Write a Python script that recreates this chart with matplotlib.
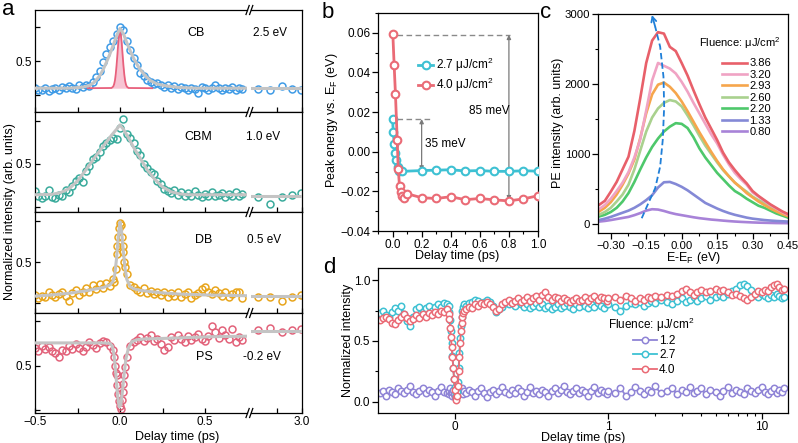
import numpy as np
import matplotlib
matplotlib.use('Agg')
import matplotlib.pyplot as plt
from matplotlib.lines import Line2D
from matplotlib.ticker import FixedLocator, FixedFormatter, NullFormatter

plt.rcParams['font.family'] = ['Liberation Sans', 'DejaVu Sans']
plt.rcParams['mathtext.fontset'] = 'custom'
plt.rcParams['mathtext.rm'] = 'Liberation Sans'
plt.rcParams['mathtext.it'] = 'Liberation Sans:italic'
plt.rcParams['mathtext.bf'] = 'Liberation Sans:bold'
plt.rcParams['font.size'] = 8.5
plt.rcParams['axes.linewidth'] = 0.9

# ================= panel a data =================
t_a = np.round(np.arange(-0.50, 0.7201, 0.02), 2)
t_r = [2.57, 2.69, 2.80, 2.90, 2.99]

cb_vals = [.11, .08, .07, .10, .06, .09, .10, .07, .12, .10,
           .13, .11, .09, .14, .12, .15, .13, .19, .26, .36,
           .48, .60, .70, .80, .90, 1.00, .95, .80, .66, .55,
           .44, .33, .28, .22, .19, .16, .18, .14, .12, .15,
           .11, .13, .09, .12, .10, .08, .11, .09, .03, .12,
           .10, .08, .11, .14, .10, .07, .11, .09, .12, .07,
           .10, .09]
cb_r = [0.09, 0.07, 0.13, 0.09, 0.07]
cb_fit_t = [-0.5, -0.3, -0.22, -0.18, -0.15, -0.12, -0.1, -0.08, -0.06, -0.04, -0.02, 0.0,
            0.02, 0.04, 0.06, 0.08, 0.1, 0.12, 0.15, 0.18, 0.22, 0.28, 0.35, 0.45, 0.6, 0.75]
cb_fit_v = [0.10, 0.10, 0.115, 0.14, 0.19, 0.28, 0.37, 0.48, 0.60, 0.73, 0.87, 0.98,
            0.90, 0.77, 0.65, 0.54, 0.45, 0.37, 0.28, 0.21, 0.16, 0.13, 0.11, 0.10, 0.10, 0.10]
cb_rfit = 0.10
pulse_t = [-0.19, -0.05, -0.04, -0.035, -0.03, -0.025, -0.02, -0.015, -0.01, -0.005, 0.0,
           0.005, 0.01, 0.015, 0.02, 0.025, 0.03, 0.035, 0.04, 0.05, 0.19]
pulse_v = [0.10, 0.103, 0.124, 0.155, 0.21, 0.307, 0.44, 0.603, 0.77, 0.885, 0.93,
           0.885, 0.77, 0.603, 0.44, 0.307, 0.21, 0.155, 0.124, 0.103, 0.10]
pulse_base = 0.10

cbm_vals = [.18, .12, .10, .12, .20, .11, .10, .14, .12, .19,
            .17, .24, .30, .34, .29, .42, .47, .55, .58, .64,
            .70, .74, .78, .80, .79, .92, 1.02, .84, .80, .74,
            .65, .60, .50, .45, .40, .38, .30, .26, .21, .18,
            .16, .20, .14, .17, .12, .16, .13, .18, .14, .11,
            .15, .13, .17, .12, .14, .16, .11, .15, .13, .17,
            .12, .15]
cbm_r = [0.11, 0.03, 0.11, 0.14, 0.16]
cbm_fit_t = [-0.5, -0.4, -0.35, -0.3, -0.25, -0.2, -0.15, -0.1, -0.05, -0.02, 0.0, 0.02,
             0.05, 0.08, 0.12, 0.16, 0.2, 0.25, 0.3, 0.35, 0.4, 0.5, 0.75]
cbm_fit_v = [0.14, 0.145, 0.165, 0.21, 0.30, 0.43, 0.57, 0.70, 0.83, 0.90, 0.95, 0.90,
             0.80, 0.69, 0.56, 0.43, 0.33, 0.23, 0.175, 0.15, 0.14, 0.14, 0.14]
cbm_rfit = 0.13

db_vals = [.10, .06, .09, .08, .13, .10, .07, .11, .13, .09,
           .03, .12, .16, .10, .14, .18, .13, .22, .17, .23,
           .19, .24, .21, .30, .60, .98, .62, .36, .22, .20,
           .16, .14, .18, .12, .15, .11, .14, .10, .13, .08,
           .12, .09, .14, .07, .11, .13, .06, .10, .12, .17,
           .20, .14, .11, .16, .12, .09, .13, .07, .11, .14,
           .13, .06]
db_spike_t = [-0.035, -0.025, -0.015, -0.01, -0.005, 0.005, 0.01, 0.015, 0.025, 0.03]
db_spike_v = [0.26, 0.42, 0.70, 0.80, 0.92, 0.95, 0.80, 0.70, 0.50, 0.44]
db_r = [0.08, 0.07, 0.03, 0.08, 0.10]
db_fit_t = [-0.5, -0.4, -0.3, -0.2, -0.1, -0.06, -0.04, -0.03, -0.02, -0.01, 0.0, 0.01,
            0.02, 0.03, 0.04, 0.06, 0.08, 0.12, 0.18, 0.25, 0.35, 0.5, 0.75]
db_fit_v = [0.085, 0.10, 0.12, 0.15, 0.19, 0.22, 0.27, 0.36, 0.55, 0.82, 0.99, 0.86,
            0.62, 0.42, 0.29, 0.20, 0.175, 0.155, 0.14, 0.125, 0.11, 0.10, 0.09]
db_rfit = 0.09

ps_vals = [.70, .66, .72, .69, .71, .67, .64, .60, .68, .66,
           .72, .69, .74, .70, .67, .71, .77, .73, .70, .75,
           .78, .76, .72, .68, .40, .05, .30, .60, .72, .76,
           .79, .82, .78, .81, .84, .78, .80, .74, .68, .71,
           .82, .79, .84, .80, .77, .83, .79, .82, .85, .80,
           .78, .83, .94, .88, .81, .90, .84, .80, .91, .76,
           .82, .79]
ps_spike_t = [-0.035, -0.03, -0.025, -0.015, -0.01, -0.005, 0.005, 0.01, 0.015, 0.025, 0.03]
ps_spike_v = [0.60, 0.50, 0.42, 0.28, 0.18, 0.10, 0.02, 0.12, 0.20, 0.40, 0.48]
ps_r = [0.90, 0.92, 0.88, 0.90, 0.91]
ps_fit_t = [-0.5, -0.1, -0.06, -0.045, -0.035, -0.025, -0.015, -0.005, 0.005, 0.015,
            0.025, 0.035, 0.05, 0.07, 0.1, 0.15, 0.25, 0.4, 0.55, 0.75]
ps_fit_v = [0.755, 0.755, 0.75, 0.72, 0.62, 0.42, 0.18, 0.04, 0.06, 0.22,
            0.42, 0.58, 0.70, 0.77, 0.79, 0.80, 0.805, 0.815, 0.825, 0.83]
ps_rfit = 0.885

row_names = ['CB', 'CBM', 'DB', 'PS']
row_energies = ['2.5 eV', '1.0 eV', '0.5 eV', '-0.2 eV']

# ================= panel b data =================
tb_27 = [0.000, 0.005, 0.012, 0.020, 0.027, 0.035, 0.045, 0.065,
         0.2, 0.3, 0.4, 0.5, 0.6, 0.7, 0.8, 0.9, 1.0]
eb_27 = [0.0165, 0.0099, 0.0039, -0.0005, -0.004, -0.0075, -0.0095, -0.0099,
         -0.0095, -0.0093, -0.0091, -0.0097, -0.0095, -0.0099, -0.0099, -0.0096, -0.0098]
tb_40 = [0.002, 0.011, 0.020, 0.032, 0.039, 0.048, 0.057, 0.066, 0.078, 0.1,
         0.2, 0.3, 0.4, 0.5, 0.6, 0.7, 0.8, 0.9, 1.0]
eb_40 = [0.0594, 0.0437, 0.029, 0.006, -0.0085, -0.0175, -0.0205, -0.0225, -0.0232, -0.0212,
         -0.0232, -0.0236, -0.0227, -0.0242, -0.0236, -0.0243, -0.0248, -0.0238, -0.0222]
shift_small = (0.2, 0.0165, -0.0095)   # time, start, end
shift_large = (0.8, 0.059, -0.0245)

# ================= panel c data =================
E_c = np.round(np.arange(-0.35, 0.4501, 0.025), 3)
fluences_c = ['3.86', '3.20', '2.93', '2.60', '2.20', '1.33', '0.80']
I_386 = [270, 330, 460, 600, 780, 960, 1330, 1800, 2300, 2620, 2740, 2720, 2530, 2470, 2300,
         2120, 1910, 1710, 1520, 1360, 1200, 1020, 880, 770, 670, 580, 470, 400, 340, 280,
         230, 180, 140]
I_320 = [210, 270, 360, 470, 590, 740, 950, 1210, 1620, 2050, 2300, 2260, 2220, 2150, 2030,
         1890, 1730, 1580, 1430, 1280, 1150, 990, 850, 730, 640, 560, 450, 390, 330, 270,
         220, 170, 130]
I_293 = [176, 230, 310, 420, 560, 720, 920, 1230, 1580, 1850, 1990, 2020, 1960, 1870, 1750,
         1610, 1460, 1310, 1170, 1030, 900, 780, 680, 590, 520, 440, 380, 320, 270, 220,
         180, 140, 110]
I_260 = [130, 170, 230, 320, 420, 560, 780, 1050, 1320, 1520, 1650, 1730, 1770, 1750, 1680,
         1550, 1410, 1260, 1120, 1000, 880, 770, 680, 590, 520, 460, 390, 340, 300, 250,
         200, 160, 120]
I_220 = [105, 130, 170, 230, 320, 440, 600, 780, 950, 1100, 1220, 1320, 1390, 1440, 1430,
         1370, 1240, 1080, 950, 840, 730, 640, 550, 470, 420, 360, 310, 260, 230, 190,
         150, 120, 90]
I_133 = [55, 75, 100, 130, 160, 190, 230, 280, 340, 410, 520, 595, 600, 570, 530,
         480, 420, 360, 300, 260, 220, 185, 155, 130, 110, 90, 75, 65, 55, 48,
         42, 38, 33]
I_080 = [33, 42, 55, 70, 85, 100, 125, 155, 190, 210, 205, 185, 160, 140, 125,
         110, 95, 82, 72, 62, 55, 47, 40, 34, 29, 25, 21, 18, 16, 14,
         12, 11, 10]
arrow_E = [-0.169, -0.141, -0.112, -0.091, -0.080, -0.074, -0.077, -0.091, -0.112, -0.126]
arrow_I = [81, 296, 510, 819, 1200, 1676, 2105, 2533, 2819, 2986]

# ================= panel d data =================
td_neg = [-0.49, -0.47, -0.45, -0.43, -0.41, -0.39, -0.37, -0.35, -0.33, -0.31, -0.29, -0.27,
          -0.25, -0.23, -0.21, -0.19, -0.17, -0.15, -0.13, -0.11, -0.09, -0.07, -0.05]
td_dip = [-0.04, -0.035, -0.03, -0.025, -0.02, -0.015, -0.01, -0.005, 0.0, 0.005, 0.01,
          0.015, 0.02, 0.025, 0.03, 0.035, 0.04, 0.045, 0.05, 0.055, 0.06]
td_mid = list(np.round(np.arange(0.07, 0.9901, 0.02), 2))
td_log = [1.0, 1.1, 1.2, 1.3, 1.4, 1.5, 1.6, 1.7, 1.8, 1.9, 2.0, 2.2, 2.4, 2.6, 2.8, 3.0,
          3.2, 3.4, 3.6, 3.8, 4.0, 4.3, 4.6, 5.0, 5.3, 5.6, 6.0, 6.4, 6.8, 7.2, 7.6, 8.0,
          8.5, 9.0, 9.5, 10, 10.5, 11, 11.5, 12, 12.5, 13, 13.5, 14]

d40_neg = [.67, .69, .70, .68, .65, .64, .67, .70, .72, .69, .66, .68, .71, .69, .72, .70,
           .73, .71, .74, .72, .75, .74, .76]
d40_dip = [.72, .68, .61, .53, .45, .37, .28, .19, .10, .04, .01, .05, .13, .25, .37, .48,
           .58, .65, .70, .73, .75]
d40_mid = [.76, .78, .77, .80, .79, .81, .80, .82, .80, .78,
           .75, .76, .80, .82, .84, .81, .83, .85, .82, .84,
           .86, .83, .85, .87, .84, .88, .90, .86, .84, .86,
           .85, .83, .85, .84, .82, .84, .85, .83, .84, .86,
           .83, .85, .87, .84, .86, .85, .83]
d40_log = [.85, .86, .84, .87, .85, .83, .85, .84, .86, .85,
           .87, .86, .88, .87, .89, .91, .93, .90, .88, .90,
           .92, .90, .91, .93, .91, .92, .90, .88, .89, .87,
           .85, .84, .86, .89, .91, .90, .92, .91, .94, .96,
           .97, .94, .92, .93]

d27_neg = [.73, .75, .71, .70, .74, .77, .75, .79, .72, .66, .62, .70, .76, .78, .74, .77,
           .79, .75, .78, .80, .78, .81, .80]
d27_dip = [.79, .74, .67, .58, .48, .38, .28, .19, .12, .07, .05, .08, .16, .28, .40, .52,
           .62, .70, .75, .78, .80]
d27_mid = [.79, .81, .82, .84, .83, .81, .82, .84, .82, .79,
           .74, .76, .78, .81, .80, .82, .79, .83, .80, .78,
           .80, .77, .79, .81, .78, .80, .77, .79, .76, .78,
           .80, .77, .79, .81, .78, .76, .80, .78, .82, .79,
           .77, .80, .78, .81, .79, .77, .80]
d27_log = [.80, .78, .75, .79, .81, .80, .82, .79, .81, .83,
           .81, .84, .82, .80, .83, .85, .82, .84, .86, .83,
           .85, .87, .84, .86, .88, .86, .89, .91, .93, .96,
           .97, .95, .92, .88, .86, .89, .87, .85, .88, .86,
           .89, .87, .85, .86]

d12_neg = [.07, .09, .05, .10, .08, .06, .11, .09, .07, .10, .13, .08, .06, .09, .11, .07,
           .10, .08, .05, .09, .12, .08, .07]
d12_dip = [.06, .09, .11, .07, .05, .08, .10, .06, .04, .07, .09, .05, .08, .10, .06, .09,
           .07, .11, .08, .06, .09]
d12_mid = [.07, .10, .08, .05, .09, .11, .07, .04, .08, .10,
           .06, .09, .12, .08, .06, .10, .07, .11, .09, .05,
           .08, .12, .07, .09, .06, .10, .08, .05, .09, .11,
           .07, .10, .13, .08, .06, .09, .11, .07, .10, .08,
           .05, .09, .12, .07, .10, .08, .06]
d12_log = [.09, .07, .11, .05, .08, .12, .09, .06, .10, .08,
           .13, .07, .09, .11, .06, .10, .08, .12, .07, .09,
           .11, .06, .10, .08, .05, .09, .12, .07, .10, .08,
           .06, .11, .09, .07, .10, .12, .08, .06, .09, .11,
           .07, .10, .08, .11]

# ================= colours =================
c_cb, c_cbm, c_db, c_ps = '#3f9be6', '#3aab9c', '#e8a51c', '#e2627a'
c_fit = '#c4c4c4'
c_cyan, c_red, c_purple = '#3ec1d3', '#ea6b76', '#8f84d6'
c_curves = ['#e8606a', '#f0a3c4', '#f6a64c', '#a9d18e', '#4ec86b', '#8489d6', '#a883d8']
c_arrow = '#1f7fd8'

W, H = 798, 443
fig = plt.figure(figsize=(W / 100, H / 100), dpi=100)


def add_ax(x0, y0, x1, y1):
    return fig.add_axes([x0 / W, 1 - y1 / H, (x1 - x0) / W, (y1 - y0) / H])


def ftext(x, y, s, **kw):
    fig.text(x / W, 1 - y / H, s, **kw)


MINUS = '\u2212'

# ================= panel a =================
rows = [
    dict(v=cb_vals, c=c_cb, ft=cb_fit_t, fv=cb_fit_v, rv=cb_r, rf=cb_rfit, ylim=(-0.25, 1.25)),
    dict(v=cbm_vals, c=c_cbm, ft=cbm_fit_t, fv=cbm_fit_v, rv=cbm_r, rf=cbm_rfit, ylim=(-0.06, 1.10)),
    dict(v=db_vals, c=c_db, ft=db_fit_t, fv=db_fit_v, rv=db_r, rf=db_rfit, ylim=(-0.12, 1.11)),
    dict(v=ps_vals, c=c_ps, ft=ps_fit_t, fv=ps_fit_v, rv=ps_r, rf=ps_rfit, ylim=(-0.03, 1.09)),
]
edges = [10, 112, 212, 313, 413]
mk = dict(ls='none', marker='o', ms=5, mew=1.1, mfc='none', zorder=2)
for i, r in enumerate(rows):
    axL = add_ax(35, edges[i], 247, edges[i + 1])
    axR = add_ax(251, edges[i], 302, edges[i + 1])
    axL.plot(t_a[:len(r['v'])], r['v'], color=r['c'], **mk)
    if i == 2:
        axL.plot(db_spike_t, db_spike_v, color=r['c'], **mk)
    if i == 3:
        axL.plot(ps_spike_t, ps_spike_v, color=r['c'], **mk)
    if i == 0:
        axL.fill_between(pulse_t, pulse_base, pulse_v, color='#f7c4d3', lw=0, zorder=2.4)
        axL.plot(pulse_t, pulse_v, color='#e8607c', lw=1.3, zorder=2.5)
    axL.plot(r['ft'], r['fv'], color=c_fit, lw=2.2, zorder=3, solid_capstyle='butt')
    axR.plot(t_r, r['rv'], color=r['c'], **mk)
    axR.plot([2.5, 3.0], [r['rf'], r['rf']], color=c_fit, lw=2.2, zorder=3)
    for ax in (axL, axR):
        ax.set_ylim(*r['ylim'])
        ax.tick_params(direction='in', length=3.5, width=0.9, labelsize=8.5, pad=2.5)
    axL.set_xlim(-0.5, 0.747)
    axR.set_xlim(2.5, 3.0)
    axL.spines['right'].set_visible(False)
    axR.spines['left'].set_visible(False)
    axL.set_yticks([0.0, 0.5, 1.0])
    axL.set_yticklabels(['', '0.5', ''])
    axR.set_yticks([])
    axL.set_xticks([-0.5, -0.25, 0.0, 0.25, 0.5])
    axR.set_xticks([2.75, 3.0])
    if i == 3:
        axL.set_xticklabels([MINUS + '0.5', '', '0.0', '', '0.5'])
        axR.set_xticklabels(['', '3.0'])
    else:
        axL.set_xticklabels([])
        axR.set_xticklabels([])
    yc = [33, 137, 240, 357][i]
    ftext(196 if i == 0 else (198 if i == 1 else 204), yc, row_names[i], ha='center', va='center', fontsize=9)
    ftext([270, 263, 264, 262][i], yc, row_energies[i], ha='center', va='center', fontsize=8.5)

# break marks
for y in edges:
    for dx in (0, 3.6):
        fig.add_artist(Line2D([(246.0 + dx) / W, (249.2 + dx) / W],
                              [1 - (y + 4.5) / H, 1 - (y - 4.5) / H],
                              transform=fig.transFigure, color='black', lw=0.9))

ftext(10, 212, 'Normalized intensity (arb. units)', rotation=90, ha='center', va='center', fontsize=9)
ftext(177, 437, 'Delay time (ps)', ha='center', va='center', fontsize=9)

# ================= panel b =================
axb = add_ax(378, 13, 538, 231)
axb.plot([0.03, shift_large[0] + 0.01], [shift_large[1]] * 2, ls=(0, (4, 2.5)), color='#8a8a8a', lw=1)
axb.plot([0.03, 0.27], [shift_small[1]] * 2, ls=(0, (4, 2.5)), color='#8a8a8a', lw=1)
for (tt, a0, a1) in (shift_small, shift_large):
    axb.annotate('', xy=(tt, a1), xytext=(tt, a0),
                 arrowprops=dict(arrowstyle='<|-|>', color='#7a7a7a', lw=0.9,
                                 mutation_scale=6, shrinkA=0, shrinkB=0))
axb.text(0.222, 0.0040, '35 meV', fontsize=8.5, ha='left', va='center')
axb.text(0.525, 0.0205, '85 meV', fontsize=8.5, ha='left', va='center')
axb.plot(tb_27, eb_27, '-o', color=c_cyan, mfc='white', ms=5.5, mew=1.5, lw=2,
         label='2.7 \u03bcJ/cm$^2$', zorder=4)
axb.plot(tb_40, eb_40, '-o', color=c_red, mfc='white', ms=5.5, mew=1.5, lw=2,
         label='4.0 \u03bcJ/cm$^2$', zorder=4)
axb.set_xlim(-0.1, 1.0)
axb.set_ylim(-0.04, 0.07)
axb.set_xticks([0, 0.2, 0.4, 0.6, 0.8, 1.0])
axb.set_xticklabels(['0.0', '0.2', '0.4', '0.6', '0.8', '1.0'])
axb.xaxis.set_minor_locator(FixedLocator([-0.1, 0.1, 0.3, 0.5, 0.7, 0.9]))
axb.set_yticks([-0.04, -0.02, 0.0, 0.02, 0.04, 0.06])
axb.set_yticklabels([MINUS + '0.04', MINUS + '0.02', '0.00', '0.02', '0.04', '0.06'])
axb.yaxis.set_minor_locator(FixedLocator([-0.03, -0.01, 0.01, 0.03, 0.05, 0.07]))
axb.tick_params(which='major', direction='out', length=4, width=0.9, labelsize=8.5, pad=1.5)
axb.tick_params(which='minor', direction='out', length=2.2, width=0.8)
axb.legend(loc='upper left', bbox_to_anchor=(0.25, 0.805), frameon=False, borderpad=0,
           borderaxespad=0, handlelength=1.3, handletextpad=0.25, labelspacing=0.2, fontsize=8.5)
ftext(332, 120, 'Peak energy vs. E$_\\mathrm{F}$ (eV)', rotation=90, ha='center', va='center', fontsize=9)
ftext(457, 256, 'Delay time (ps)', ha='center', va='center', fontsize=9)

# ================= panel c =================
axc = add_ax(598, 14, 788, 233)
curves = [I_386, I_320, I_293, I_260, I_220, I_133, I_080]
handles = []
for k in range(len(curves) - 1, -1, -1):
    h, = axc.plot(E_c, curves[k], color=c_curves[k], lw=1.9, label=fluences_c[k])
    handles.append(h)
handles = handles[::-1]
axc.plot(arrow_E[:-1], arrow_I[:-1], color=c_arrow, lw=1.3, ls=(0, (3.5, 1.8)), zorder=5)
axc.annotate('', xy=(arrow_E[-1], arrow_I[-1]), xytext=(arrow_E[-2], arrow_I[-2]),
             arrowprops=dict(arrowstyle='->', color=c_arrow, lw=1.3, mutation_scale=9,
                             shrinkA=0, shrinkB=0),
             annotation_clip=False, zorder=5)
axc.set_xlim(-0.354, 0.45)
axc.set_ylim(-130, 3000)
axc.set_xticks([-0.30, -0.15, 0.0, 0.15, 0.30, 0.45])
axc.set_xticklabels([MINUS + '0.30', MINUS + '0.15', '0.00', '0.15', '0.30', '0.45'])
axc.xaxis.set_minor_locator(FixedLocator([-0.225, -0.075, 0.075, 0.225, 0.375]))
axc.set_yticks([0, 1000, 2000, 3000])
axc.yaxis.set_minor_locator(FixedLocator([500, 1500, 2500]))
axc.tick_params(which='major', direction='out', length=4, width=0.9, labelsize=8.2, pad=1.5)
axc.tick_params(which='minor', direction='out', length=2.2, width=0.8)
axc.legend(handles=handles, loc='upper left', bbox_to_anchor=(0.653, 0.797), frameon=False,
           borderpad=0, borderaxespad=0, handlelength=2.25, handletextpad=0.2,
           labelspacing=0.13, fontsize=8)
ftext(740, 43, 'Fluence: \u03bcJ/cm$^2$', ha='center', va='center', fontsize=8)
ftext(558, 123, 'PE intensity (arb. units)', rotation=90, ha='center', va='center', fontsize=9)
ftext(693, 258, 'E-E$_\\mathrm{F}$ (eV)', ha='center', va='center', fontsize=9)

# ================= panel d =================
axd = add_ax(378, 268, 788, 413)
td = td_neg + td_dip + td_mid + td_log
series_d = [
    (d12_neg + d12_dip + d12_mid + d12_log, c_purple, '1.2'),
    (d27_neg + d27_dip + d27_mid + d27_log, c_cyan, '2.7'),
    (d40_neg + d40_dip + d40_mid + d40_log, c_red, '4.0'),
]
for vals, col, lab in series_d:
    axd.plot(td[:len(vals)], vals, '-o', color=col, mfc='white', ms=4.6, mew=1.1, lw=1.3, label=lab)
axd.set_xscale('symlog', linthresh=1, linscale=0.9)
axd.set_xlim(-0.5, 14.8)
axd.set_ylim(-0.093, 1.10)
axd.xaxis.set_major_locator(FixedLocator([0, 1, 10]))
axd.xaxis.set_major_formatter(FixedFormatter(['0', '1', '10']))
axd.xaxis.set_minor_locator(FixedLocator([2, 3, 4, 5, 6, 7, 8, 9]))
axd.xaxis.set_minor_formatter(NullFormatter())
axd.set_yticks([0.0, 0.5, 1.0])
axd.set_yticklabels(['0.0', '0.5', '1.0'])
axd.yaxis.set_minor_locator(FixedLocator([0.25, 0.75]))
axd.tick_params(which='major', direction='out', length=4, width=0.9, labelsize=8.5, pad=1.5)
axd.tick_params(which='minor', direction='out', length=2.2, width=0.8)
axd.legend(loc='upper left', bbox_to_anchor=(0.622, 0.538), frameon=False, borderpad=0,
           borderaxespad=0, handlelength=2.0, handletextpad=0.2, labelspacing=0.2, fontsize=8.5)
ftext(651, 325, 'Fluence: \u03bcJ/cm$^2$', ha='center', va='center', fontsize=8.5)
ftext(348, 340, 'Normalized intensity', rotation=90, ha='center', va='center', fontsize=9)
ftext(583, 438.5, 'Delay time (ps)', ha='center', va='center', fontsize=9)

# panel letters
ftext(2, 15, 'a', fontsize=16)
ftext(322, 18, 'b', fontsize=16)
ftext(540, 18, 'c', fontsize=16)
ftext(323, 273, 'd', fontsize=16)

fig.savefig('out.png', dpi=100)
